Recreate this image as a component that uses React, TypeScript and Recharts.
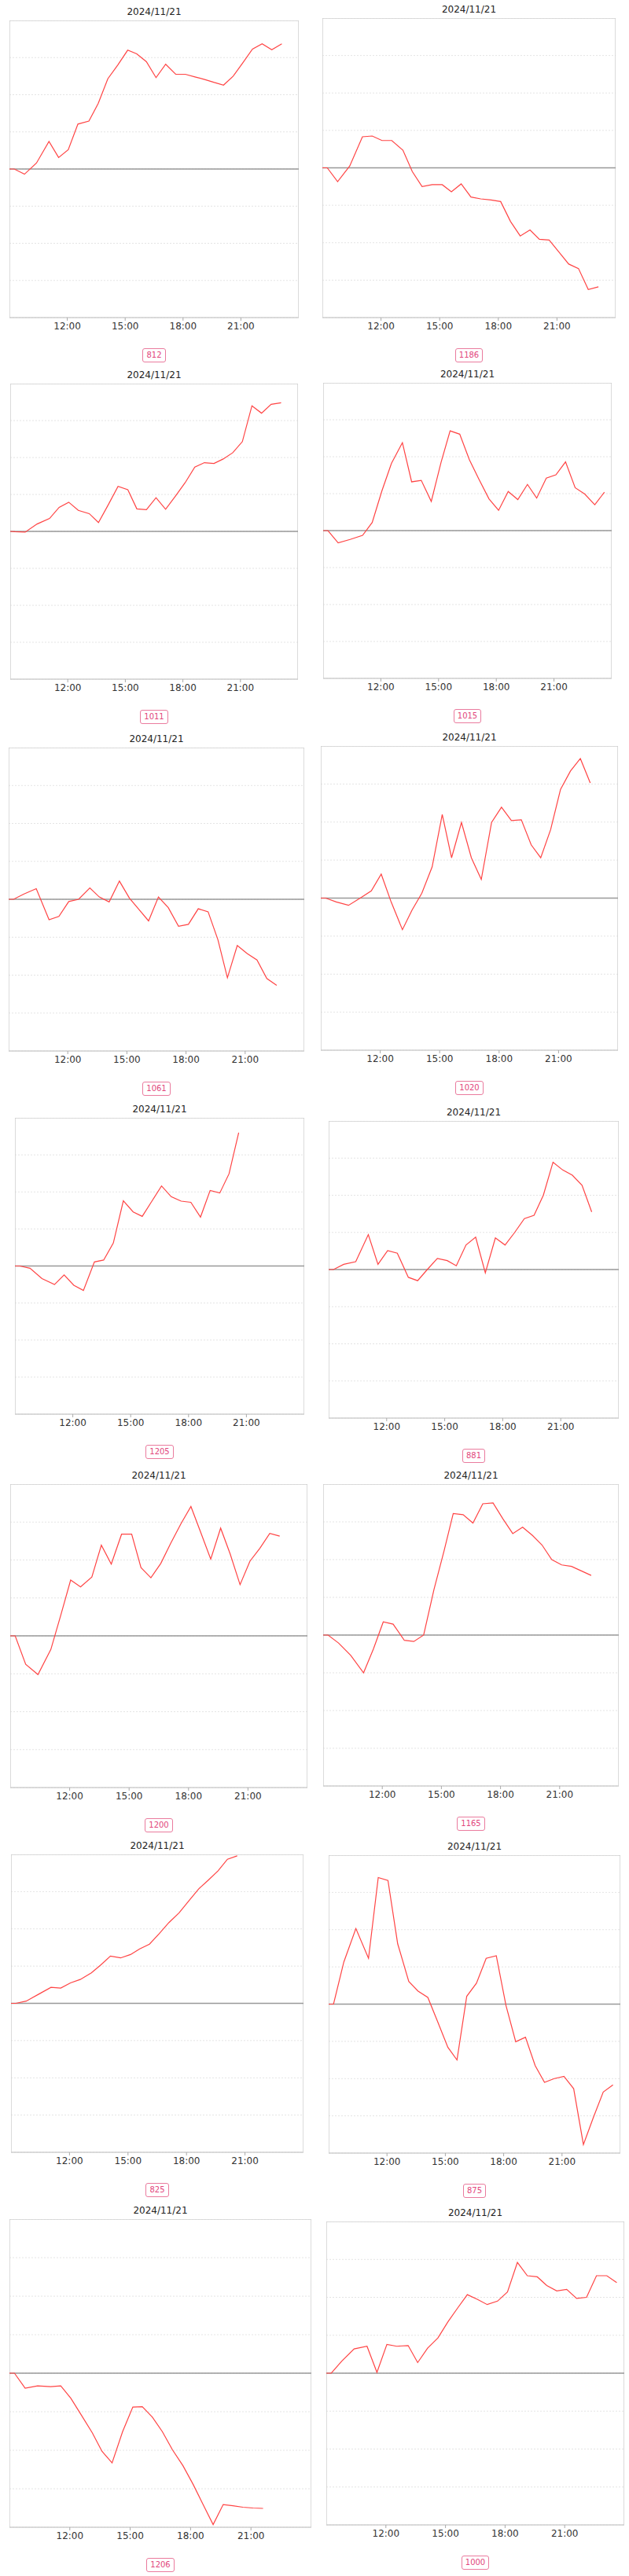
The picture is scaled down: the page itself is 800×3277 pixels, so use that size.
import React from 'react'
import { LineChart, Line, XAxis, YAxis, CartesianGrid, ReferenceLine, ReferenceArea } from 'recharts'

const dateLabel = '2024/11/21'
const hourTicks = [12, 15, 18, 21]
const gridTicks = [-4, -3, -2, -1, 0, 1, 2, 3, 4]

// sample times in hours (9:00 .. 23:37)
const times = [9.0, 9.25, 9.78, 10.4, 11.05, 11.55, 12.05, 12.55, 13.12, 13.6, 14.1, 14.62, 15.13, 15.6, 16.1,
  16.6, 17.1, 17.62, 18.12, 18.62, 19.12, 19.62, 20.1, 20.6, 21.1, 21.6, 22.1, 22.6, 23.12, 23.62]

const codes = ['812', '1186', '1011', '1015', '1061', '1020', '1205', '881', '1200', '1165', '825', '875', '1206', '1000']

const v812 = [0, 0, -0.14, 0.16, 0.74, 0.31, 0.52, 1.21, 1.29, 1.76, 2.43, 2.8, 3.2, 3.1, 2.89, 2.46, 2.82, 2.55, 2.55,
  2.48, 2.41, 2.33, 2.26, 2.5, 2.86, 3.23, 3.37, 3.21, 3.37]
const v1186 = [0, 0, -0.37, 0.05, 0.83, 0.85, 0.73, 0.73, 0.47, -0.1, -0.5, -0.45, -0.45, -0.64, -0.43, -0.78, -0.83,
  -0.86, -0.9, -1.43, -1.82, -1.66, -1.91, -1.93, -2.25, -2.57, -2.69, -3.25, -3.18]
const v1011 = [0, -0.01, -0.02, 0.2, 0.35, 0.65, 0.79, 0.57, 0.48, 0.24, 0.71, 1.22, 1.13, 0.61, 0.59, 0.91, 0.6, 0.96,
  1.32, 1.74, 1.86, 1.84, 1.96, 2.13, 2.43, 3.4, 3.2, 3.44, 3.48]
const v1015 = [0, 0, -0.33, -0.24, -0.13, 0.22, 1.07, 1.82, 2.38, 1.32, 1.36, 0.79, 1.85, 2.7, 2.61, 1.92, 1.39, 0.86,
  0.55, 1.06, 0.84, 1.25, 0.88, 1.42, 1.51, 1.86, 1.16, 0.99, 0.7, 1.04]
const v1061 = [0, 0, 0.14, 0.28, -0.54, -0.45, -0.06, 0, 0.3, 0.06, -0.07, 0.48, 0.03, -0.26, -0.57, 0.06, -0.22, -0.71,
  -0.66, -0.25, -0.33, -1.07, -2.07, -1.22, -1.43, -1.6, -2.09, -2.27]
const v1020 = [0, 0, -0.1, -0.19, 0.02, 0.19, 0.63, -0.1, -0.83, -0.32, 0.13, 0.82, 2.2, 1.06, 1.99, 1.06, 0.49, 1.99,
  2.39, 2.04, 2.06, 1.4, 1.06, 1.8, 2.86, 3.34, 3.67, 3.03]
const v1205 = [0, 0, -0.06, -0.34, -0.5, -0.24, -0.52, -0.66, 0.11, 0.16, 0.62, 1.76, 1.46, 1.34, 1.75, 2.16, 1.87, 1.75,
  1.72, 1.32, 2.04, 1.97, 2.49, 3.6]
const v881 = [0, 0, 0.14, 0.21, 0.94, 0.14, 0.51, 0.44, -0.21, -0.3, 0, 0.3, 0.24, 0.1, 0.66, 0.87, -0.09, 0.85, 0.66,
  1.0, 1.37, 1.46, 2.0, 2.89, 2.68, 2.54, 2.27, 1.55]
const v1200 = [0, 0, -0.75, -1.02, -0.36, 0.54, 1.47, 1.29, 1.55, 2.39, 1.89, 2.68, 2.68, 1.8, 1.53, 1.91, 2.44, 2.96,
  3.41, 2.72, 2.02, 2.84, 2.16, 1.35, 1.97, 2.31, 2.7, 2.63]
const v1165 = [0, 0, -0.21, -0.54, -1.0, -0.37, 0.35, 0.29, -0.14, -0.17, 0, 1.2, 2.22, 3.22, 3.19, 2.97, 3.48, 3.5,
  3.08, 2.69, 2.86, 2.64, 2.39, 2.0, 1.86, 1.82, 1.7, 1.58]
const v825 = [0, 0, 0.06, 0.24, 0.43, 0.41, 0.55, 0.64, 0.82, 1.03, 1.27, 1.22, 1.31, 1.46, 1.59, 1.87, 2.17, 2.43, 2.75,
  3.07, 3.31, 3.56, 3.87, 3.96]
const v875 = [0, 0, 1.13, 2.03, 1.23, 3.4, 3.32, 1.62, 0.61, 0.35, 0.18, -0.49, -1.16, -1.5, 0.21, 0.56, 1.23, 1.3, -0.04,
  -1.01, -0.89, -1.65, -2.1, -2.0, -1.94, -2.27, -3.77, -3.06, -2.36, -2.17]
const v1206 = [0, 0, -0.39, -0.33, -0.35, -0.33, -0.65, -1.07, -1.55, -2.03, -2.33, -1.52, -0.88, -0.87, -1.14, -1.52,
  -1.99, -2.4, -2.88, -3.41, -3.93, -3.41, -3.44, -3.48, -3.5, -3.51]
const v1000 = [0, 0, 0.32, 0.64, 0.71, 0.02, 0.76, 0.71, 0.73, 0.28, 0.66, 0.93, 1.36, 1.71, 2.07, 1.95, 1.81, 1.9, 2.14,
  2.92, 2.57, 2.54, 2.31, 2.17, 2.21, 1.97, 2.0, 2.57, 2.57, 2.39]

const seriesList = [v812, v1186, v1011, v1015, v1061, v1020, v1205, v881, v1200, v1165, v825, v875, v1206, v1000]

// plot box of each panel on the page: [left, right, top, bottom]
const boxes = [
  [12, 380, 26, 404], [410, 783, 23, 404],
  [13, 379, 488, 864], [411, 778, 487, 863],
  [11, 387, 951, 1337], [408, 786, 949, 1336],
  [19, 387, 1422, 1799], [418, 787, 1426, 1804],
  [13, 391, 1888, 2274], [411, 787, 1888, 2272],
  [14, 386, 2359, 2738], [418, 789, 2360, 2739],
  [12, 396, 2823, 3215], [415, 794, 2826, 3212],
]

const FONT = '"DejaVu Sans", sans-serif'

const Panel = ({ idx }: { idx: number }) => {
  const [l, r, t, b] = boxes[idx]
  const w = r - l
  const h = b - t
  const data = seriesList[idx].map((v, i) => ({ t: times[i], v }))
  return (
    <>
      <div style={{ position: 'absolute', left: l, width: w, top: t - 19, textAlign: 'center', fontSize: 12, lineHeight: '16px', color: '#222', fontFamily: FONT }}>
        {dateLabel}
      </div>
      <div style={{ position: 'absolute', left: l, top: t }}>
        <LineChart width={w} height={h + 30} data={data} margin={{ top: 0, right: 0, left: 0, bottom: 0 }}>
          <CartesianGrid vertical={false} stroke="#e4e4e4" strokeDasharray="2 2" />
          <XAxis
            dataKey="t"
            type="number"
            domain={[9, 24]}
            ticks={hourTicks}
            tickFormatter={(hh: number) => `${hh}:00`}
            axisLine={false}
            tickLine={{ stroke: '#aaa' }}
            tickSize={4}
            tick={{ fill: '#333', fontSize: 12, fontFamily: FONT }}
            allowDataOverflow
          />
          <YAxis hide type="number" domain={[-4, 4]} ticks={gridTicks} allowDataOverflow />
          <ReferenceArea x1={9} x2={24} y1={-4} y2={4} fill="none" stroke="#cfcfcf" strokeWidth={1.5} ifOverflow="visible" />
          <ReferenceLine y={0} stroke="#999" strokeWidth={1.5} />
          <Line type="linear" dataKey="v" stroke="#f44" strokeWidth={1.2} dot={false} isAnimationActive={false} />
        </LineChart>
      </div>
      <div style={{ position: 'absolute', left: l, width: w, top: b + 37, textAlign: 'center' }}>
        <span style={{ display: 'inline-block', border: '1px solid #ea7b9e', borderRadius: 3, color: '#e2467c', fontSize: 10, lineHeight: '14px', padding: '1px 4px', fontFamily: FONT }}>
          {codes[idx]}
        </span>
      </div>
    </>
  )
}

export default function App() {
  return (
    <div style={{ position: 'absolute', left: 0, top: 0, width: 800, height: 3277, background: '#fff' }}>
      {seriesList.map((_, i) => <Panel key={i} idx={i} />)}
    </div>
  )
}
